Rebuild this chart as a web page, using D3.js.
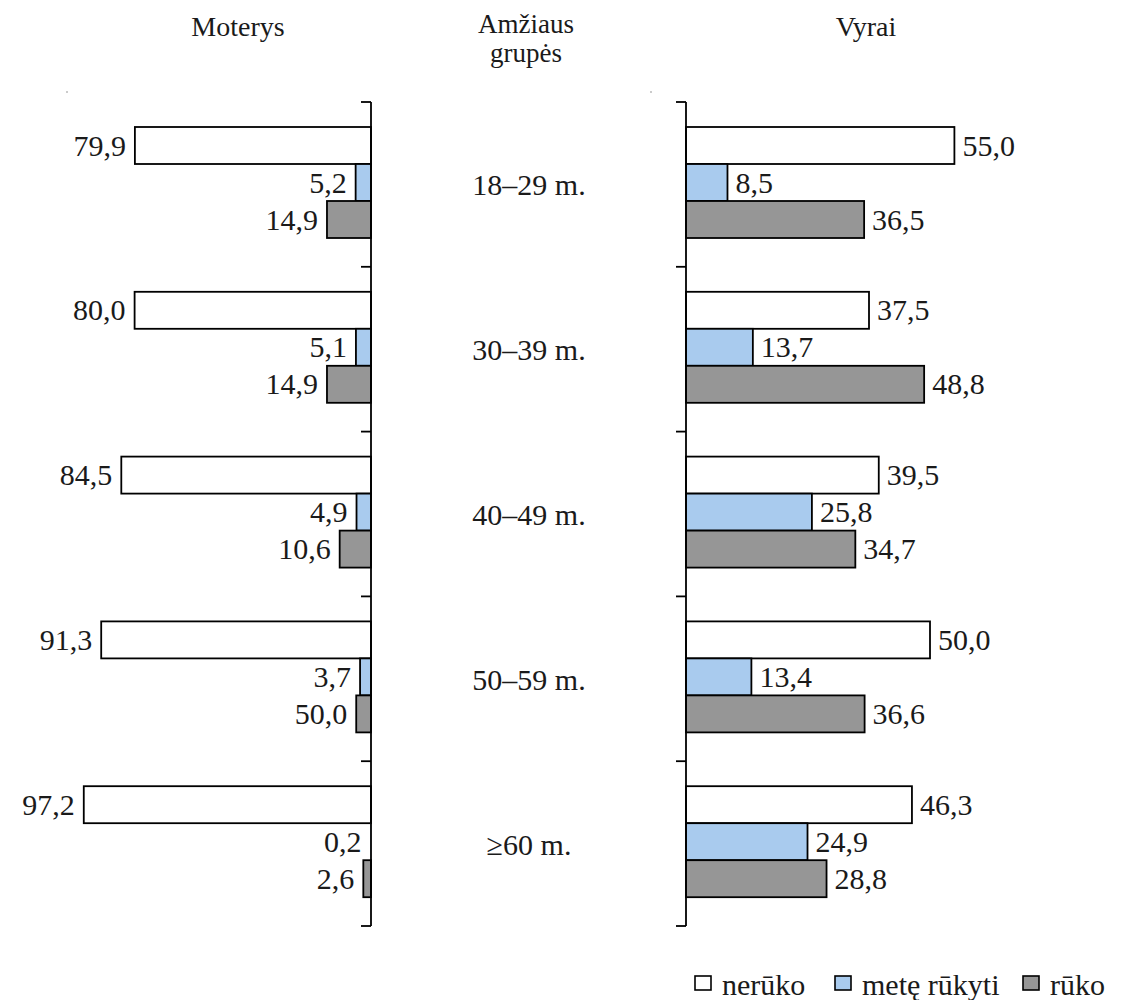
<!DOCTYPE html>
<html>
<head>
<meta charset="utf-8">
<script src="https://cdn.jsdelivr.net/npm/d3@7"></script>
<style>
  html, body { margin: 0; padding: 0; background: #fff; }
  svg { display: block; }
  svg text { font-family: 'Liberation Serif', 'Times New Roman', Times, 'DejaVu Serif', serif; fill: #1a1a1a; }
</style>
</head>
<body>
<svg id="chart" width="1121" height="1000" font-family="Liberation Serif, Times New Roman, serif"></svg>
<script>
// ---- data ----
const categories = ["18–29 m.", "30–39 m.", "40–49 m.", "50–59 m.", "≥60 m."];
const seriesNames = ["nerūko", "metę rūkyti", "rūko"];
const seriesColors = ["#ffffff", "#a9cbee", "#969696"];

const womenNeruko = [79.9, 80.0, 84.5, 91.3, 97.2];
const womenMete   = [5.2, 5.1, 4.9, 3.7, 0.2];
const womenRuko   = [14.9, 14.9, 10.6, 5.0, 2.6];
// labels as printed in the source (one printed label differs from its bar)
const womenRukoLabels = ["14,9", "14,9", "10,6", "50,0", "2,6"];

const menNeruko = [55.0, 37.5, 39.5, 50.0, 46.3];
const menMete   = [8.5, 13.7, 25.8, 13.4, 24.9];
const menRuko   = [36.5, 48.8, 34.7, 36.6, 28.8];

const titleWomen = "Moterys";
const titleMiddle = ["Amžiaus", "grupės"];
const titleMen = "Vyrai";

// ---- layout ----
const svg = d3.select("#chart");
const fmt = v => d3.format(".1f")(v).replace(".", ",");

const y = d3.scaleBand().domain(categories).range([102, 926]);
const inner = d3.scaleBand().domain(seriesNames).range([25, 136]);

const xW = d3.scaleLinear().domain([0, 100]).range([371, 371 - 295.5]);
const xM = d3.scaleLinear().domain([0, 100]).range([686, 686 + 488]);

const women = [womenNeruko, womenMete, womenRuko];
const womenLabels = [womenNeruko.map(fmt), womenMete.map(fmt), womenRukoLabels];
const men = [menNeruko, menMete, menRuko];

function rows(arrs, labels) {
  const out = [];
  categories.forEach((c, i) => {
    seriesNames.forEach((s, j) => {
      out.push({cat: c, ser: s, j, v: arrs[j][i], label: labels ? labels[j][i] : fmt(arrs[j][i])});
    });
  });
  return out;
}

const fontSize = 30;

// women bars
const wRows = rows(women, womenLabels);
svg.append("g").selectAll("rect").data(wRows).join("rect")
  .attr("x", d => xW(d.v))
  .attr("y", d => y(d.cat) + inner(d.ser))
  .attr("width", d => xW(0) - xW(d.v))
  .attr("height", inner.bandwidth())
  .attr("fill", d => seriesColors[d.j])
  .attr("stroke", "#000")
  .attr("stroke-width", d => (xW(0) - xW(d.v)) < 2 ? 0 : 1.8);

svg.append("g").selectAll("text").data(wRows).join("text")
  .attr("x", d => xW(d.v) - 9)
  .attr("y", d => y(d.cat) + inner(d.ser) + inner.bandwidth() / 2 + 10)
  .attr("text-anchor", "end")
  .attr("font-size", fontSize)
  .text(d => d.label);

// men bars
const mRows = rows(men);
svg.append("g").selectAll("rect").data(mRows).join("rect")
  .attr("x", xM(0))
  .attr("y", d => y(d.cat) + inner(d.ser))
  .attr("width", d => xM(d.v) - xM(0))
  .attr("height", inner.bandwidth())
  .attr("fill", d => seriesColors[d.j])
  .attr("stroke", "#000")
  .attr("stroke-width", 1.8);

svg.append("g").selectAll("text").data(mRows).join("text")
  .attr("x", d => xM(d.v) + 8)
  .attr("y", d => y(d.cat) + inner(d.ser) + inner.bandwidth() / 2 + 10)
  .attr("text-anchor", "start")
  .attr("font-size", fontSize)
  .text(d => d.label);

// axes (vertical lines with ticks at group boundaries)
const boundaries = categories.map(c => y(c)).concat([y.range()[1]]);
function drawAxis(x0) {
  const g = svg.append("g").attr("stroke", "#000").attr("stroke-width", 1.8);
  g.append("line").attr("x1", x0).attr("x2", x0)
    .attr("y1", boundaries[0]).attr("y2", boundaries[boundaries.length - 1]);
  g.selectAll("line.tick").data(boundaries).join("line").attr("class", "tick")
    .attr("x1", x0 - 10).attr("x2", x0).attr("y1", d => d).attr("y2", d => d);
}
drawAxis(xW(0));
drawAxis(xM(0));

// category labels
svg.append("g").selectAll("text").data(categories).join("text")
  .attr("x", 529)
  .attr("y", d => y(d) + y.bandwidth() / 2 + 11)
  .attr("text-anchor", "middle")
  .attr("font-size", fontSize)
  .text(d => d);

// titles
svg.append("text").attr("x", 238).attr("y", 36).attr("text-anchor", "middle")
  .attr("font-size", 28).text(titleWomen);
svg.append("text").attr("x", 866).attr("y", 36).attr("text-anchor", "middle")
  .attr("font-size", 28).text(titleMen);
svg.append("g").selectAll("text").data(titleMiddle).join("text")
  .attr("x", 526).attr("y", (d, i) => 33 + i * 29)
  .attr("text-anchor", "middle").attr("font-size", 27).text(d => d);

// tiny stray dots seen in source
svg.append("g").selectAll("circle").data([[67, 92], [651, 92]]).join("circle")
  .attr("cx", d => d[0]).attr("cy", d => d[1]).attr("r", 0.8).attr("fill", "#888");

// legend
const legendX = [695, 835, 1023];
const lg = svg.append("g");
seriesNames.forEach((s, i) => {
  lg.append("rect").attr("x", legendX[i]).attr("y", 976).attr("width", 16).attr("height", 14)
    .attr("fill", seriesColors[i]).attr("stroke", "#000").attr("stroke-width", 1.6);
  lg.append("text").attr("x", legendX[i] + 27).attr("y", 995)
    .attr("font-size", fontSize).text(s);
});
</script>
</body>
</html>
